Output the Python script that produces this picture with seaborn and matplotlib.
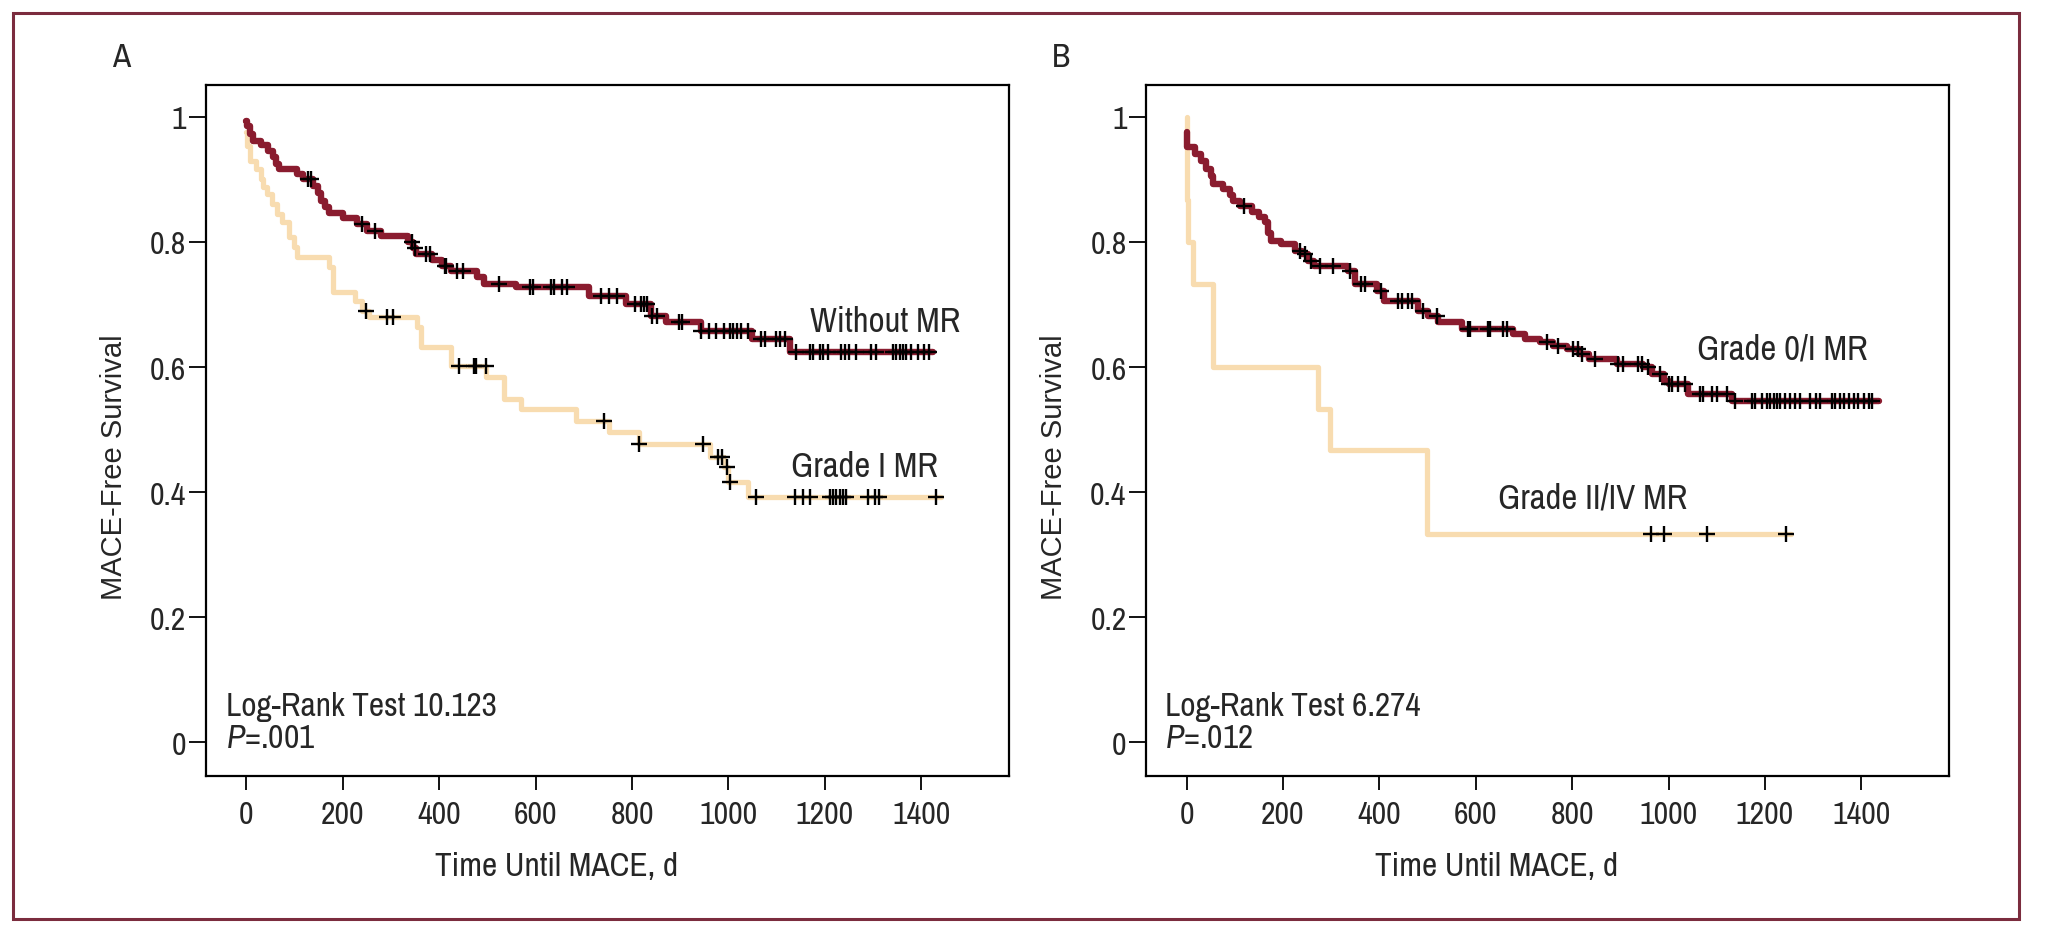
import numpy as np
import pandas as pd
import matplotlib
matplotlib.use("Agg")
import matplotlib.pyplot as plt
import seaborn as sns
from matplotlib.patches import Rectangle

# --- DATA ---
# Panel A: without MR
a_none_t = [0, 2, 8, 14, 30, 45, 55, 62, 68, 105, 118, 138, 148, 155, 162, 172, 200, 230,
            250, 280, 335, 345, 352, 385, 405, 425, 478, 492, 560, 711, 787, 840, 870, 942,
            1048, 1128, 1424]
a_none_s = [0.994, 0.985, 0.972, 0.962, 0.955, 0.946, 0.936, 0.925, 0.917, 0.909, 0.900,
            0.890, 0.878, 0.866, 0.856, 0.846, 0.838, 0.828, 0.818, 0.809, 0.800, 0.790,
            0.780, 0.771, 0.762, 0.754, 0.744, 0.733, 0.728, 0.714, 0.700, 0.682, 0.672,
            0.658, 0.645, 0.624, 0.624]
a_none_cens = [128, 134, 240, 267, 343, 350, 372, 381, 411, 415, 437, 450, 525, 588, 595,
               632, 638, 655, 665, 735, 752, 769, 807, 818, 824, 831, 841, 851, 897, 903,
               942, 959, 975, 990, 1004, 1010, 1017, 1027, 1041, 1068, 1076, 1099, 1107,
               1118, 1141, 1169, 1176, 1189, 1196, 1207, 1234, 1241, 1251, 1265, 1296, 1306,
               1341, 1348, 1355, 1362, 1369, 1379, 1393, 1406, 1417]

# Panel A: grade I MR
a_g1_t = [0, 2, 8, 19, 30, 35, 43, 53, 63, 74, 88, 98, 105, 172, 180, 225, 240, 255, 354,
          362, 425, 497, 535, 570, 683, 752, 814, 962, 990, 1000, 1041, 1440]
a_g1_s = [0.976, 0.954, 0.930, 0.917, 0.900, 0.888, 0.877, 0.861, 0.845, 0.832, 0.808,
          0.792, 0.776, 0.760, 0.720, 0.706, 0.690, 0.680, 0.664, 0.632, 0.602, 0.584,
          0.549, 0.533, 0.514, 0.496, 0.477, 0.456, 0.440, 0.416, 0.392, 0.392]
a_g1_cens = [249, 291, 304, 442, 473, 477, 496, 742, 814, 948, 979, 986, 996, 1003, 1058,
             1138, 1155, 1169, 1210, 1217, 1224, 1231, 1238, 1244, 1289, 1303, 1313, 1430]

# Panel B: grade 0/I MR
b_g01_t = [0, 1, 17, 30, 41, 50, 55, 75, 90, 96, 110, 135, 150, 162, 170, 176, 197, 225,
           240, 252, 265, 335, 350, 395, 410, 480, 500, 522, 571, 678, 702, 733, 760, 790,
           815, 835, 893, 948, 965, 990, 1000, 1040, 1132, 1436]
b_g01_s = [0.976, 0.952, 0.941, 0.930, 0.917, 0.905, 0.893, 0.885, 0.875, 0.866, 0.857,
           0.848, 0.840, 0.832, 0.815, 0.802, 0.797, 0.786, 0.781, 0.770, 0.762, 0.754,
           0.733, 0.722, 0.706, 0.690, 0.682, 0.672, 0.661, 0.653, 0.645, 0.640, 0.634,
           0.629, 0.621, 0.613, 0.605, 0.600, 0.589, 0.578, 0.573, 0.557, 0.546, 0.546]
b_g01_cens = [120, 235, 245, 259, 276, 304, 339, 363, 370, 404, 439, 447, 459, 467, 491,
              519, 584, 588, 626, 630, 657, 664, 747, 771, 802, 812, 821, 847, 896, 906,
              937, 945, 958, 983, 1000, 1007, 1020, 1034, 1066, 1072, 1090, 1101, 1122,
              1138, 1173, 1180, 1194, 1204, 1211, 1218, 1225, 1232, 1242, 1253, 1263, 1273,
              1294, 1305, 1315, 1339, 1346, 1356, 1363, 1374, 1384, 1394, 1405, 1415, 1422]

# Panel B: grade II/IV MR
b_g24_t = [0, 0, 4, 14, 55, 273, 297, 498, 1255]
b_g24_s = [1.0, 0.867, 0.800, 0.733, 0.600, 0.533, 0.467, 0.333, 0.333]
b_g24_cens = [964, 991, 1079, 1244]

y_ticks = [0, 0.2, 0.4, 0.6, 0.8, 1.0]
y_ticklabels = ["0", "0.2", "0.4", "0.6", "0.8", "1"]
x_ticks = [0, 200, 400, 600, 800, 1000, 1200, 1400]

DARK = "#8a1c2f"
TAN = "#f8dcb0"
NARROW = ["Archivo Narrow", "DejaVu Sans"]

sns.set_style("white")
plt.rcParams["font.family"] = NARROW
plt.rcParams["mathtext.fontset"] = "custom"
plt.rcParams["mathtext.rm"] = "Archivo Narrow"
plt.rcParams["mathtext.it"] = "Archivo Narrow:italic"


def step_value(t, s, x):
    idx = np.searchsorted(np.asarray(t), x, side="right") - 1
    return np.asarray(s)[np.clip(idx, 0, len(s) - 1)]


def draw_curve(ax, t, s, cens, color, lw):
    sns.lineplot(x=t, y=s, drawstyle="steps-post", estimator=None, sort=False,
                 color=color, linewidth=lw, ax=ax)
    return pd.DataFrame({"t": cens, "s": step_value(t, s, cens)})


def style_axis(ax):
    ax.set_xlim(-84, 1582)
    ax.set_ylim(-0.054, 1.051)
    ax.set_yticks(y_ticks)
    ax.set_yticklabels(y_ticklabels)
    ax.set_xticks(x_ticks)
    for sp in ax.spines.values():
        sp.set_visible(True)
        sp.set_color("black")
        sp.set_linewidth(1.6)
    ax.tick_params(axis="y", left=True, direction="out", length=12, width=1.3, pad=2,
                   labelsize=23, color="black")
    ax.tick_params(axis="x", bottom=True, direction="out", length=10, width=1.3, pad=7,
                   labelsize=23, color="black")
    ax.set_xlabel("Time Until MACE, d", fontsize=24)
    ax.set_ylabel("MACE-Free Survival", fontsize=21, family=["Liberation Sans", "DejaVu Sans"])
    ax.xaxis.set_label_coords(0.436, -0.108)
    ax.yaxis.set_label_coords(-0.097, 0.449)


fig = plt.figure(figsize=(20.45, 9.37), dpi=100)
axA = fig.add_axes([0.1007, 0.1708, 0.3927, 0.7374])
axB = fig.add_axes([0.5604, 0.1708, 0.3927, 0.7374])

# --- PANEL A ---
cA1 = draw_curve(axA, a_g1_t, a_g1_s, a_g1_cens, TAN, 3.8)
cA0 = draw_curve(axA, a_none_t, a_none_s, a_none_cens, DARK, 4.6)
for c in (cA1, cA0):
    sns.scatterplot(data=c, x="t", y="s", marker="+", s=120, color="black",
                    linewidth=1.7, ax=axA, zorder=5)
axA.text(1169, 0.658, "Without MR", fontsize=25, va="baseline")
axA.text(1130, 0.426, "Grade I MR", fontsize=25, va="baseline")
axA.text(-43, 0.043, "Log-Rank Test 10.123", fontsize=24, va="baseline")
axA.text(-43, -0.008, "$P$=.001", fontsize=24, va="baseline")

# --- PANEL B ---
cB1 = draw_curve(axB, b_g24_t, b_g24_s, b_g24_cens, TAN, 3.8)
cB0 = draw_curve(axB, b_g01_t, b_g01_s, b_g01_cens, DARK, 4.6)
for c in (cB1, cB0):
    sns.scatterplot(data=c, x="t", y="s", marker="+", s=120, color="black",
                    linewidth=1.7, ax=axB, zorder=5)
axB.text(1060, 0.613, "Grade 0/I MR", fontsize=25, va="baseline")
axB.text(646, 0.376, "Grade II/IV MR", fontsize=25, va="baseline")
axB.text(-45, 0.043, "Log-Rank Test 6.274", fontsize=24, va="baseline")
axB.text(-45, -0.008, "$P$=.012", fontsize=24, va="baseline")

for ax in (axA, axB):
    style_axis(ax)

fig.text(0.0592, 0.938, "A", fontsize=24, ha="center", va="center")
fig.text(0.5188, 0.938, "B", fontsize=24, ha="center", va="center")

# outer frame
fig.patches.append(Rectangle((0.0064, 0.0181), 0.9809, 0.9669, transform=fig.transFigure,
                             fill=False, edgecolor="#7b2c3e", linewidth=2.2))

fig.savefig("out.png", dpi=100)
